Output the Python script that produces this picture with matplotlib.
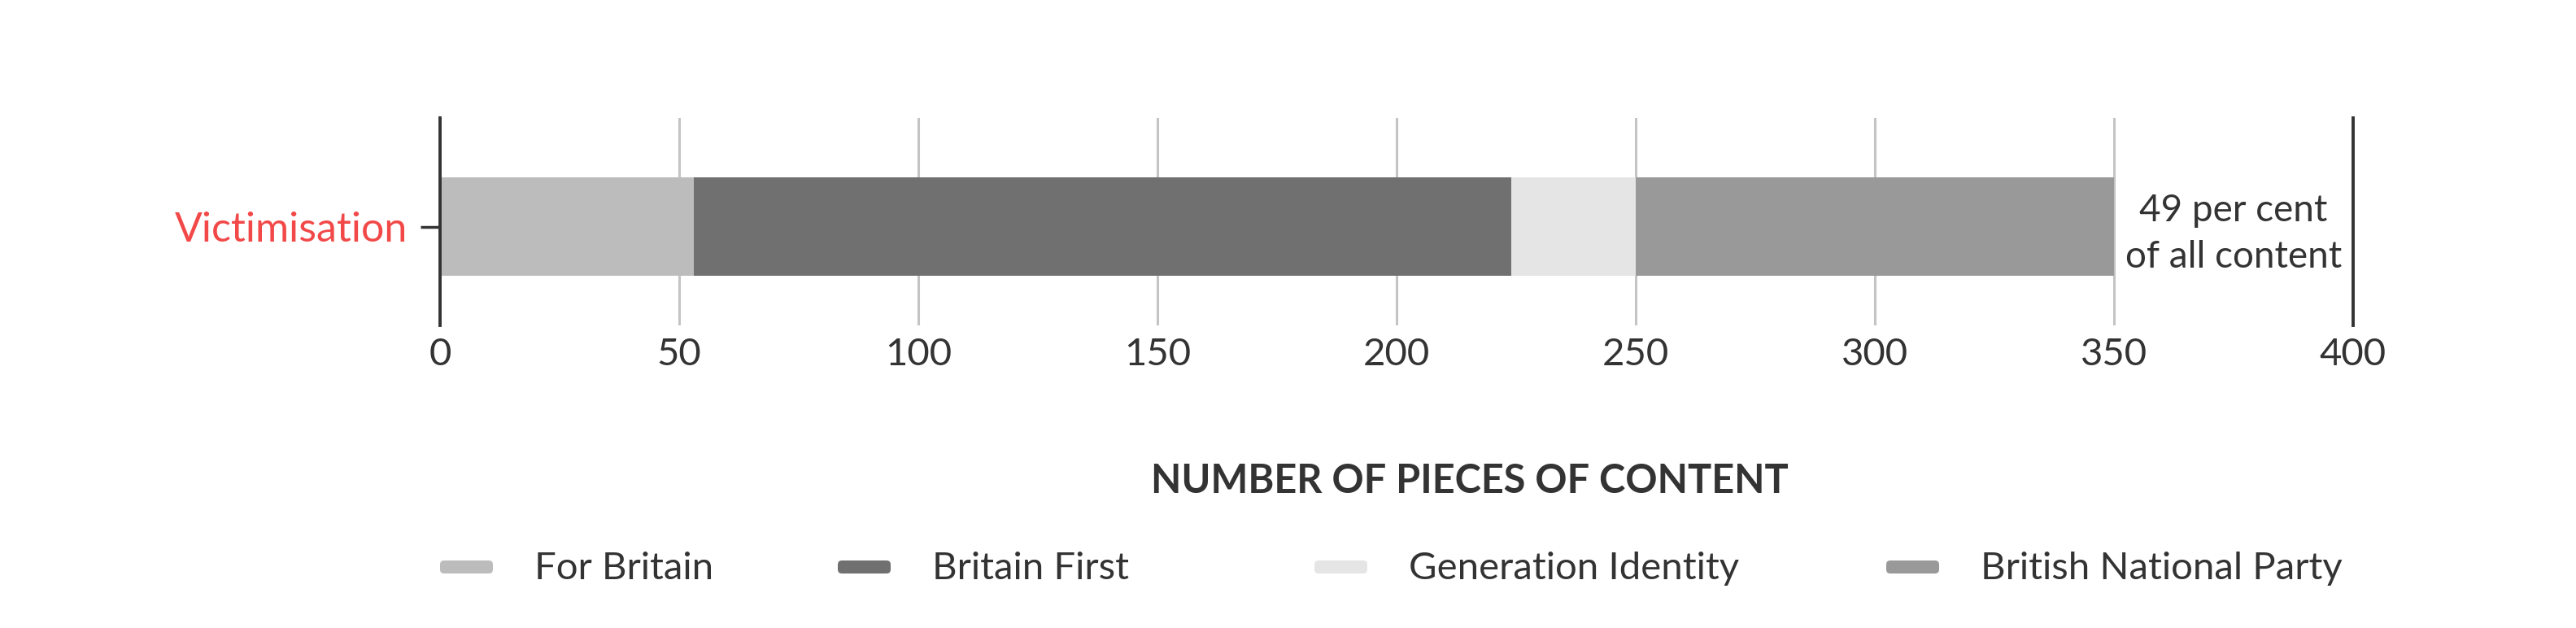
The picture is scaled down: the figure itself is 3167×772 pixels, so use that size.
import matplotlib
matplotlib.use("Agg")
import matplotlib.pyplot as plt
from matplotlib.patches import FancyBboxPatch

# ---- data ----
categories = ["Victimisation"]
series_names = ["For Britain", "Britain First", "Generation Identity", "British National Party"]
for_britain = [53]
britain_first = [171]
generation_identity = [26]
british_national_party = [100]
series_values = [for_britain, britain_first, generation_identity, british_national_party]
series_colors = ["#bcbcbc", "#707070", "#e6e5e6", "#999999"]
xticks = [0, 50, 100, 150, 200, 250, 300, 350, 400]
annotation = "49 per cent\nof all content"
axis_title = "NUMBER OF PIECES OF CONTENT"

# ---- style ----
plt.rcParams['font.family'] = ['Lato', 'DejaVu Sans']
TXT = "#333333"
W, H = 3167, 772

fig = plt.figure(figsize=(W / 100, H / 100), dpi=100)
ax = fig.add_axes([541 / W, 1 - 400 / H, (2893 - 541) / W, 255 / H])

left = [0] * len(categories)
for name, vals, col in zip(series_names, series_values, series_colors):
    ax.barh(categories, vals, left=left, height=0.475, color=col, zorder=3, label=name)
    left = [l + v for l, v in zip(left, vals)]

ax.set_xlim(xticks[0], xticks[-1])
ax.set_ylim(-0.476, 0.524)
ax.set_xticks(xticks)
ax.set_xticklabels([str(t) for t in xticks])
ax.grid(axis='x', color='#c4c4c4', lw=2.2, zorder=0)
ax.set_axisbelow(True)

for s in ['top', 'bottom']:
    ax.spines[s].set_visible(False)
for s in ['left', 'right']:
    ax.spines[s].set_color(TXT)
    ax.spines[s].set_linewidth(2.8)
    ax.spines[s].set_zorder(4)

ax.tick_params(axis='x', length=0, pad=11, labelsize=34, labelcolor=TXT)
ax.tick_params(axis='y', length=17, width=2.5, color=TXT, pad=12, labelsize=36, labelcolor='#f24848')

# annotation to the right of the bar
total = left[0]
ax.text((total + xticks[-1]) / 2, -0.035, annotation, ha='center', va='center',
        fontsize=33, color=TXT, linespacing=1.42, zorder=5)

# axis title
fig.text(1807 / W, 1 - 591 / H, axis_title, ha='center', va='center',
         fontsize=35, fontweight='bold', color=TXT)

# legend (manual, rounded swatches)
legend_x = [541, 1030, 1616, 2319]
for name, col, lx in zip(series_names, series_colors, legend_x):
    p = FancyBboxPatch((lx / 100, (H - 697 - 8) / 100), 0.65, 0.16,
                       boxstyle="round,pad=0,rounding_size=0.05",
                       transform=fig.dpi_scale_trans, facecolor=col, edgecolor='none')
    fig.patches.append(p)
    fig.text((lx + 116) / W, 1 - 699 / H, name, ha='left', va='center',
             fontsize=34, color=TXT)

fig.savefig("out.png", dpi=100, facecolor='white')
